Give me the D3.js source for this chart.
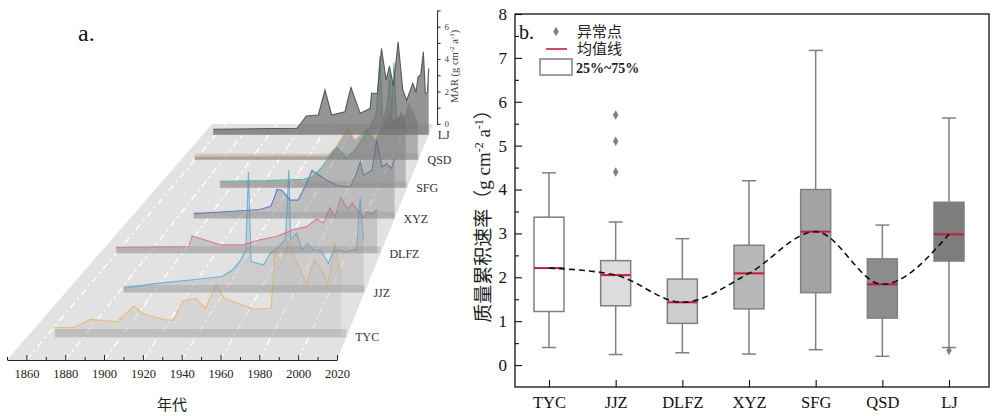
<!DOCTYPE html>
<html>
<head>
<meta charset="utf-8">
<script src="https://cdn.jsdelivr.net/npm/d3@7"></script>
<style>
  body { margin: 0; background: #fff; }
  svg { display: block; }
</style>
</head>
<body>
<svg id="fig" width="996" height="416"></svg>
<script>
// ---- data: panel a, MAR series per site as [year, value] ----
const sites = ['TYC', 'JJZ', 'DLFZ', 'XYZ', 'SFG', 'QSD', 'LJ'];

const tycMar = [[1865,0.41],[1875,0.41],[1884,0.76],[1898,0.66],[1907,1.33],[1912,0.99],[1924,0.73],[1928,0.73],
  [1933,1.56],[1940,1.66],[1945,1.23],[1951,2.27],[1955,1.66],[1971,1.19],[1980,1.23],[1982,3.65],[1986,3.16],
  [1989,4.08],[1996,2.8],[1999,2.3],[2003,3.3],[2007,2.87],[2010,2.23],[2014,4.01],[2017,2.58]];
const jjzMar = [[1883,0.2],[1902,0.42],[1921,0.57],[1939,0.73],[1945,1.03],[1949,1.41],[1952.5,1.94],[1954,5.5],
  [1955.5,1.41],[1962.5,1.26],[1966.5,1.79],[1971,2.09],[1975,2.4],[1977,5.6],[1978,2.43],[1981.5,2.7],[1984.5,1.94],
  [1987.5,2.25],[1991,1.94],[1995,1.94],[1999.5,1.34],[2002.5,1.94],[2006,1.94],[2009,1.87],[2013,1.94],
  [2015.5,1.94],[2017.5,4.3],[2019.5,2.4]];
const dlfzMar = [[1860,0.28],[1904,0.33],[1906,0.85],[1923,0.41],[1937,0.41],[1947,0.66],[1957,0.82],[1967,1.14],
  [1975.5,1.3],[1981.5,1.68],[1985.5,1.48],[1989.5,2.21],[1992.5,1.77],[1996,2.72],[2000,2.16],[2003,2.45],
  [2006,2.11],[2010,1.72],[2012,2.02],[2015,1.92],[2018,2.11]];
const xyzMar = [[1891,0.25],[1933.5,0.47],[1940.5,0.64],[1943,1.12],[1944.5,1.5],[1947.5,1.46],[1953,0.95],
  [1958,0.95],[1963.5,1.81],[1967,2.49],[1976.5,1.98],[1983,1.72],[1991.5,1.63],[1995.5,2.32],[1998,2.92],
  [2000,2.24],[2005.5,2.49],[2008.5,4.04],[2012,2.66],[2015,2.84],[2018,2.58],[2020,3.1]];
const sfgMar = [[1893,0.35],[1925,0.38],[1950,0.45],[1956,0.6],[1962,1.1],[1969,1.86],[1972,2.22],[1979,1.59],
  [1985,2.1],[1990,2.7],[1995,3.3],[1999,4.0],[2001.5,7.17],[2003.5,3.6],[2006,4.3],[2008.5,6.2],[2009.5,3.8],
  [2011,6.8],[2013,3.5],[2016,4.1],[2019,3.4]];
const qsdMar = [[1860,0.2],[1955,0.22],[1961,0.73],[1969.5,1.83],[1974.5,1.14],[1980.5,1.54],[1983,1.83],
  [1989,1.25],[1994.5,2.0],[1999.5,2.86],[2002,2.28],[2005.5,2.46],[2010.5,2.57],[2013,3.2],[2015.5,2.86],
  [2019.5,2.11]];
const ljMar = [[1858,0.33],[1921,0.39],[1928,1.13],[1937,1.19],[1942,2.7],[1947,1.19],[1957,1.39],[1961.5,2.86],
  [1968.5,1.29],[1976,1.59],[1977,2.5],[1981.5,2.5],[1984.5,5.21],[1988,3.3],[1990.5,4.14],[1993.5,2.94],
  [1997,5.61],[2000.5,2.7],[2003.5,2.09],[2008,3.1],[2010.5,2.59],[2012,3.5],[2014,3.6],[2016,5.0],
  [2017.5,2.5],[2019,2.5],[2020,4.0]];
const marSeries = [tycMar, jjzMar, dlfzMar, xyzMar, sfgMar, qsdMar, ljMar];

const yearTicks = [1860, 1880, 1900, 1920, 1940, 1960, 1980, 2000, 2020];
const marTicks = [0, 1, 2, 3, 4, 5, 6, 7];

// ---- data: panel b, box statistics ----
const boxLow  = [0.40, 0.24, 0.28, 0.25, 0.35, 0.20, 0.40];
const boxQ1   = [1.22, 1.35, 0.95, 1.28, 1.65, 1.07, 2.37];
const boxQ3   = [3.37, 2.38, 1.96, 2.73, 4.00, 2.42, 3.71];
const boxHigh = [4.38, 3.26, 2.88, 4.20, 7.17, 3.19, 5.63];
const boxMean = [2.21, 2.05, 1.43, 2.09, 3.04, 1.84, 2.98];
const outlierSite  = ['JJZ', 'JJZ', 'JJZ', 'LJ'];
const outlierValue = [4.4, 5.1, 5.7, 0.33];
const rateTicks = [0, 1, 2, 3, 4, 5, 6, 7, 8];

// ---- styles ----
const FONT = '"Liberation Serif", "Times New Roman", "Noto Sans CJK SC", serif';
const lineColors = ['#f0b860', '#5aaee0', '#e0707e', '#4f74b4', '#4fb3a9', '#eab27a', '#4d4d4d'];
const areaColors = ['#c4c4c4', '#b0b0b0', '#9c9c9c', '#888888', '#747474', '#6a6a6a', '#666666'];
const areaAlpha  = [0.4, 0.4, 0.4, 0.4, 0.4, 0.45, 0.7];
const boxFills   = ['#ffffff', '#dcdcdc', '#cdcdcd', '#b8b8b8', '#a3a3a3', '#8c8c8c', '#7d7d7d'];

const svg = d3.select('#fig').attr('font-family', FONT);

// =================== panel a: perspective waterfall ===================
// simple perspective: everything shrinks toward a vanishing point by 1/w
const VX = 628, VY = -355, FRONT_Y = 360, W_BACK = 1.493;
const xFront = d3.scaleLinear().domain([1850, 2020]).range([7, 337]);
const depthW = d3.scaleLinear().domain([0, 6]).range([1.033, 1.46]);
const marH = d3.scaleLinear().domain([0, 1]).range([0, 24.2]);

function project(year, w, v) {
  return [VX + (xFront(year) - VX) / w, VY + (FRONT_Y - VY) / w - marH(v) / w];
}

const left = svg.append('g');

// floor
left.append('path')
  .attr('d', d3.line()([project(1850, 1, 0), project(2020, 1, 0), project(2020, W_BACK, 0), project(1850, W_BACK, 0)]) + 'Z')
  .attr('fill', '#e2e2e2');

// white dashed year lines on the floor
left.selectAll('.floor-grid')
  .data(yearTicks.filter(y => y < 2020))
  .join('line')
  .attr('class', 'floor-grid')
  .attr('x1', d => project(d, 1, 0)[0]).attr('y1', d => project(d, 1, 0)[1])
  .attr('x2', d => project(d, W_BACK, 0)[0]).attr('y2', d => project(d, W_BACK, 0)[1])
  .attr('stroke', '#ffffff')
  .attr('stroke-width', 1.4)
  .attr('stroke-dasharray', '7 4 2 4');

// planes drawn front to back, so the translucent walls behind veil the peaks in front
d3.range(0, 7).forEach(k => {
  const w = depthW(k);
  const area = d3.area()
    .x(d => project(d[0], w, d[1])[0])
    .y0(d => project(d[0], w, 0)[1])
    .y1(d => project(d[0], w, d[1])[1]);
  const line = d3.line()
    .x(d => project(d[0], w, d[1])[0])
    .y(d => project(d[0], w, d[1])[1]);
  left.append('path')
    .datum(marSeries[k])
    .attr('d', area)
    .attr('fill', areaColors[k])
    .attr('fill-opacity', areaAlpha[k]);
  // darker base band of each plane
  const first = marSeries[k][0][0];
  left.append('path')
    .datum([[first, 0.35], [2020, 0.35]])
    .attr('d', area)
    .attr('fill', '#8c8c8c')
    .attr('fill-opacity', 0.3);
  left.append('path')
    .datum(marSeries[k])
    .attr('d', line)
    .attr('fill', 'none')
    .attr('stroke', lineColors[k])
    .attr('stroke-width', 1.1)
    .attr('stroke-opacity', 0.9);
});

// plane names
left.selectAll('.plane-label')
  .data(sites)
  .join('text')
  .attr('class', 'plane-label')
  .attr('x', (d, i) => project(2020, depthW(i), 0)[0] + 9)
  .attr('y', (d, i) => project(2020, depthW(i), 0)[1])
  .attr('dy', '0.35em')
  .attr('font-size', 12)
  .attr('fill', '#333')
  .text(d => d);

// MAR axis at the back
const marAxisX = project(2020, W_BACK, 0)[0] + 4;
const marScale = d3.scaleLinear().domain([0, 7])
  .range([project(2020, W_BACK, 0)[1], project(2020, W_BACK, 7)[1]]);
const marAxis = left.append('g')
  .attr('transform', `translate(${marAxisX},0)`)
  .call(d3.axisRight(marScale).tickValues(marTicks).tickSize(3.5).tickSizeOuter(0).tickPadding(4)
    .tickFormat(d => d % 2 === 0 ? d : ''))
  .attr('font-family', FONT);
marAxis.selectAll('text').attr('font-size', 9).attr('fill', '#444');
marAxis.selectAll('line,path').attr('stroke', '#555');

const marLabel = left.append('text')
  .attr('transform', `translate(${marAxisX + 21},${marScale(3.55)}) rotate(-90)`)
  .attr('text-anchor', 'middle')
  .attr('font-size', 10.5)
  .attr('fill', '#444');
marLabel.append('tspan').text('MAR (g cm');
marLabel.append('tspan').attr('baseline-shift', 'super').attr('font-size', 7).text('-2');
marLabel.append('tspan').text(' a');
marLabel.append('tspan').attr('baseline-shift', 'super').attr('font-size', 7).text('-1');
marLabel.append('tspan').text(')');

// front year axis
const yearAxis = left.append('g')
  .attr('transform', `translate(0,${FRONT_Y})`)
  .call(d3.axisBottom(xFront).tickValues(yearTicks).tickSize(-5).tickSizeOuter(0).tickPadding(9).tickFormat(d3.format('d')))
  .attr('font-family', FONT);
yearAxis.selectAll('text').attr('font-size', 12.5).attr('fill', '#222');
left.append('g')
  .attr('transform', `translate(0,${FRONT_Y})`)
  .call(d3.axisBottom(xFront).tickValues(d3.range(1850, 2020, 20)).tickSize(-3).tickSizeOuter(0).tickFormat(''))
  .select('.domain').remove();
left.selectAll('.tick line, .domain').attr('stroke', '#222');

left.append('text')
  .attr('x', xFront(1935)).attr('y', 405)
  .attr('dy', '0.35em')
  .attr('text-anchor', 'middle')
  .attr('font-size', 15)
  .attr('fill', '#222')
  .text('年代');

left.append('text')
  .attr('x', 78).attr('y', 41)
  .attr('font-size', 24)
  .attr('fill', '#111')
  .text('a.');

// =================== panel b: box plot ===================
const PLOT = { left: 515, right: 989, top: 14, bottom: 387 };
const xb = d3.scalePoint().domain(sites).range([549, 949]);
const yb = d3.scaleLinear().domain([-0.5, 8]).range([PLOT.bottom, PLOT.top]);
const right = svg.append('g');

const yAxisG = right.append('g')
  .attr('transform', `translate(${PLOT.left},0)`)
  .call(d3.axisLeft(yb).tickValues(rateTicks).tickSize(-7).tickPadding(8))
  .attr('font-family', FONT);
yAxisG.selectAll('text').attr('font-size', 17);
right.append('g')
  .attr('transform', `translate(${PLOT.left},0)`)
  .call(d3.axisLeft(yb).tickValues(d3.range(0.5, 8, 1)).tickSize(-4).tickFormat(''));
const xAxisG = right.append('g')
  .attr('transform', `translate(0,${PLOT.bottom})`)
  .call(d3.axisBottom(xb).tickSize(-7).tickPadding(9))
  .attr('font-family', FONT);
xAxisG.selectAll('text').attr('font-size', 16.5);
right.selectAll('.domain').remove();
right.selectAll('.tick line').attr('stroke', '#111').attr('stroke-width', 1.1);
right.selectAll('.tick text').attr('fill', '#111');

const boxW = 30, capW = 14;
const boxes = right.selectAll('.box')
  .data(sites)
  .join('g')
  .attr('class', 'box');
boxes.append('line')
  .attr('x1', d => xb(d)).attr('x2', d => xb(d))
  .attr('y1', (d, i) => yb(boxHigh[i])).attr('y2', (d, i) => yb(boxQ3[i]));
boxes.append('line')
  .attr('x1', d => xb(d)).attr('x2', d => xb(d))
  .attr('y1', (d, i) => yb(boxQ1[i])).attr('y2', (d, i) => yb(boxLow[i]));
boxes.append('line')
  .attr('x1', d => xb(d) - capW / 2).attr('x2', d => xb(d) + capW / 2)
  .attr('y1', (d, i) => yb(boxHigh[i])).attr('y2', (d, i) => yb(boxHigh[i]));
boxes.append('line')
  .attr('x1', d => xb(d) - capW / 2).attr('x2', d => xb(d) + capW / 2)
  .attr('y1', (d, i) => yb(boxLow[i])).attr('y2', (d, i) => yb(boxLow[i]));
boxes.selectAll('line').attr('stroke', '#808080').attr('stroke-width', 1.5);
boxes.append('rect')
  .attr('x', d => xb(d) - boxW / 2)
  .attr('y', (d, i) => yb(boxQ3[i]))
  .attr('width', boxW)
  .attr('height', (d, i) => yb(boxQ1[i]) - yb(boxQ3[i]))
  .attr('fill', (d, i) => boxFills[i])
  .attr('stroke', '#808080')
  .attr('stroke-width', 1.5);
boxes.append('line')
  .attr('x1', d => xb(d) - boxW / 2).attr('x2', d => xb(d) + boxW / 2)
  .attr('y1', (d, i) => yb(boxMean[i])).attr('y2', (d, i) => yb(boxMean[i]))
  .attr('stroke', '#c41e3a')
  .attr('stroke-width', 2);

// outliers
right.selectAll('.outlier')
  .data(outlierValue)
  .join('path')
  .attr('class', 'outlier')
  .attr('d', d3.symbol(d3.symbolDiamond, 26))
  .attr('transform', (d, i) => `translate(${xb(outlierSite[i])},${yb(d)})`)
  .attr('fill', '#808080');

// dashed curve through the means
right.append('path')
  .datum(boxMean)
  .attr('d', d3.line().curve(d3.curveMonotoneX).x((d, i) => xb(sites[i])).y(d => yb(d)))
  .attr('fill', 'none')
  .attr('stroke', '#111')
  .attr('stroke-width', 1.6)
  .attr('stroke-dasharray', '6 4');

// frame
right.append('rect')
  .attr('x', PLOT.left).attr('y', PLOT.top)
  .attr('width', PLOT.right - PLOT.left).attr('height', PLOT.bottom - PLOT.top)
  .attr('fill', 'none')
  .attr('stroke', '#111')
  .attr('stroke-width', 1.3);

// y label
const yLab = right.append('text')
  .attr('transform', `translate(483,${yb(3.5)}) rotate(-90)`)
  .attr('text-anchor', 'middle')
  .attr('dy', '0.35em')
  .attr('font-size', 19)
  .attr('fill', '#222');
yLab.append('tspan').text('质量累积速率（g cm');
yLab.append('tspan').attr('baseline-shift', 'super').attr('font-size', 12).text('-2');
yLab.append('tspan').text(' a');
yLab.append('tspan').attr('baseline-shift', 'super').attr('font-size', 12).text('-1');
yLab.append('tspan').text('）');

// legend
right.append('text').attr('x', 519).attr('y', 39).attr('font-size', 20).attr('fill', '#111').text('b.');
right.append('path')
  .attr('d', d3.symbol(d3.symbolDiamond, 26))
  .attr('transform', 'translate(556,31.5)')
  .attr('fill', '#808080');
right.append('text').attr('x', 577).attr('y', 31.5).attr('dy', '0.35em').attr('font-size', 15).attr('fill', '#222').text('异常点');
right.append('line')
  .attr('x1', 546).attr('x2', 567).attr('y1', 49).attr('y2', 49)
  .attr('stroke', '#c41e3a').attr('stroke-width', 1.6);
right.append('text').attr('x', 577).attr('y', 49).attr('dy', '0.35em').attr('font-size', 15).attr('fill', '#222').text('均值线');
right.append('rect')
  .attr('x', 540).attr('y', 59).attr('width', 32).attr('height', 16)
  .attr('fill', '#fff').attr('stroke', '#808080').attr('stroke-width', 1.5);
right.append('text').attr('x', 576).attr('y', 68).attr('dy', '0.35em')
  .attr('font-size', 14).attr('font-weight', 'bold').attr('fill', '#222').text('25%~75%');
</script>
</body>
</html>
